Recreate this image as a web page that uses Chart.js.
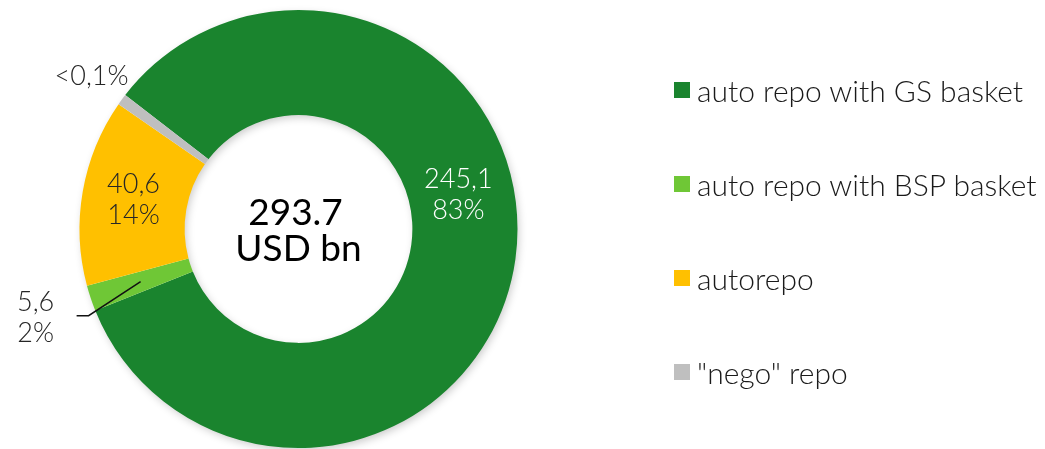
<!DOCTYPE html>
<html lang="en">
<head>
   <meta charset="UTF-8">
   <title>Repo volume</title>
   <style>
      body { margin: 0; background: #fff; }
      .wrap { position: relative; width: 1045px; height: 449px; }
      #repo-pie { position: absolute; left: 0; top: 0; }
      .legend { position: absolute; left: 674px; top: 43px; font-family: Lato, sans-serif; font-weight: 300; font-size: 30px; color: #1a1a1a; }
      .legend .item { height: 94px; display: flex; align-items: center; white-space: nowrap; }
      .legend .box { width: 16px; height: 16px; margin-right: 7px; flex: none; }
   </style>
   <script src="https://cdn.jsdelivr.net/npm/chart.js@4.4.1/dist/chart.umd.min.js"></script>
</head>
<body>
   <div class="wrap">
      <canvas id="repo-pie" width="1045" height="449"></canvas>
      <div class="legend" id="legend"></div>
   </div>

   <script>
      // segments, clockwise from the GS slice
      const categories = ['auto repo with GS basket', 'auto repo with BSP basket', 'autorepo', '"nego" repo'];
      const volumes = [245.1, 5.6, 40.6, 2.4];
      const valueLabels = ['245,1', '5,6', '40,6', ''];
      const shareLabels = ['83%', '2%', '14%', '<0,1%'];
      const totalLabel = ['293.7', 'USD bn'];
      const colors = ['#1a842e', '#6fc736', '#ffc000', '#bfbfbf'];

      // build the legend
      let legend = document.getElementById('legend');
      categories.forEach((name, i) => {
         let item = document.createElement('div');
         item.className = 'item';
         item.innerHTML = `<span class="box" style="background:${colors[i]}"></span><span></span>`;
         item.lastChild.textContent = name;
         legend.appendChild(item);
      });

      let toXY = (x, y, deg, r) => {
         let a = (deg - 90) * Math.PI / 180;
         return { x: x + r * Math.cos(a), y: y + r * Math.sin(a) };
      };
      let midDeg = (arc) => ((arc.startAngle + arc.endAngle) / 2) * 180 / Math.PI + 90;

      // soft shadow under the ring
      const ringShadow = {
         id: 'ringShadow',
         beforeDatasetsDraw(chart) {
            let arc = chart.getDatasetMeta(0).data[0];
            let ctx = chart.ctx;
            ctx.save();
            ctx.shadowColor = 'rgba(0,0,0,0.22)';
            ctx.shadowBlur = 8;
            ctx.shadowOffsetX = 2;
            ctx.shadowOffsetY = 3;
            ctx.beginPath();
            ctx.arc(arc.x, arc.y, arc.outerRadius - 1, 0, Math.PI * 2);
            ctx.arc(arc.x, arc.y, arc.innerRadius + 1, 0, Math.PI * 2, true);
            ctx.fillStyle = '#fff';
            ctx.fill();
            ctx.restore();
         }
      };

      // value + share labels, leader line for the thin slice, total in the hole
      const sliceLabels = {
         id: 'sliceLabels',
         afterDatasetsDraw(chart) {
            let ctx = chart.ctx;
            let arcs = chart.getDatasetMeta(0).data;
            ctx.save();
            ctx.textAlign = 'center';
            ctx.textBaseline = 'middle';
            ctx.font = '300 27px Lato';

            arcs.forEach((arc, i) => {
               let mid = midDeg(arc);
               let band = (arc.innerRadius + arc.outerRadius) / 2;
               let lines = [valueLabels[i], shareLabels[i]].filter(s => s);
               let p, color = '#262626';

               if (i === 0) {
                  p = toXY(arc.x, arc.y, 78, band - 3);
                  color = '#fff';
               } else if (i === 1) {
                  let s = toXY(arc.x, arc.y, mid, band);
                  let elbow = { x: s.x - 52, y: s.y + 34 };
                  let end = { x: elbow.x - 12, y: elbow.y };
                  ctx.beginPath();
                  ctx.moveTo(s.x, s.y);
                  ctx.lineTo(elbow.x, elbow.y);
                  ctx.lineTo(end.x, end.y);
                  ctx.strokeStyle = '#111';
                  ctx.lineWidth = 1.5;
                  ctx.stroke();
                  p = { x: end.x - 41, y: end.y + 2 };
               } else if (i === 2) {
                  p = toXY(arc.x, arc.y, mid, band + 1);
               } else {
                  p = toXY(arc.x, arc.y, mid, arc.outerRadius + 40);
                  p.x += 2;
               }

               ctx.fillStyle = color;
               let lh = 31;
               lines.forEach((t, k) => {
                  ctx.fillText(t, p.x, p.y + (k - (lines.length - 1) / 2) * lh);
               });
            });

            let a = arcs[0];
            ctx.font = '400 37px Lato';
            ctx.fillStyle = '#000';
            ctx.fillText(totalLabel[0], a.x - 3, a.y - 16);
            ctx.fillText(totalLabel[1], a.x, a.y + 20);
            ctx.restore();
         }
      };

      document.fonts.load('300 27px Lato').then(() => document.fonts.load('400 37px Lato')).finally(() => {
         new Chart(document.getElementById('repo-pie'), {
            type: 'doughnut',
            data: {
               labels: categories,
               datasets: [{
                  data: volumes,
                  backgroundColor: colors,
                  borderWidth: 0
               }]
            },
            options: {
               responsive: false,
               animation: false,
               rotation: -52.3,
               cutout: '52%',
               layout: { padding: { left: 79.5, right: 527.5, top: 10, bottom: 1 } },
               plugins: {
                  legend: { display: false },
                  tooltip: { enabled: false }
               }
            },
            plugins: [ringShadow, sliceLabels]
         });
      });
   </script>
</body>
</html>
